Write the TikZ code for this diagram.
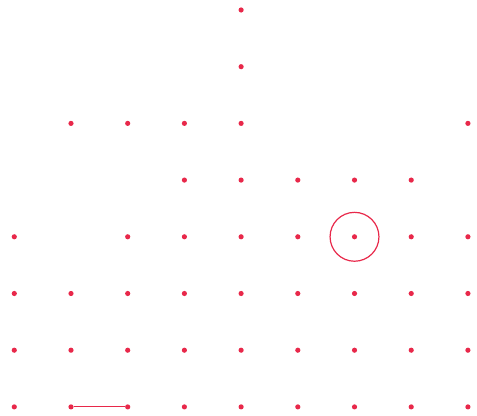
\documentclass[tikz,border=0pt]{standalone}
\usepackage{tikz}
\definecolor{dotred}{RGB}{232,40,74}

\begin{document}
\begin{tikzpicture}[x=1.5cm,y=-1.5cm,inner sep=0mm,dotred,
	vertex/.style={circle,fill=dotred,minimum size=3.9pt},
	ring/.style={circle,draw=dotred,line width=0.9pt,minimum size=36.8pt}]
	
	\useasboundingbox (-0.252,-0.176) rectangle (8.160,7.160);
	
	% top column
	\node at (4,0) [vertex] (p4-0) {};
	\node at (4,1) [vertex] (p4-1) {};
	
	\foreach \i in {1,2,3,4,8}{
		\node at (\i,2) [vertex] (p\i-2) {};
	};
	\foreach \i in {3,...,7}{
		\node at (\i,3) [vertex] (p\i-3) {};
	};
	\foreach \i in {0,2,3,4,5,6,7,8}{
		\node at (\i,4) [vertex] (p\i-4) {};
	};
	\foreach \j in {5,6,7}{
		\foreach \i in {0,...,8}{
			\node at (\i,\j) [vertex] (p\i-\j) {};
		};
	};
	
	\node at (p6-4) [ring] (c1) {};
	
	\path[draw=dotred,line width=0.8pt]
	(p1-7) edge (p2-7)
	;
	
\end{tikzpicture}
\end{document}
